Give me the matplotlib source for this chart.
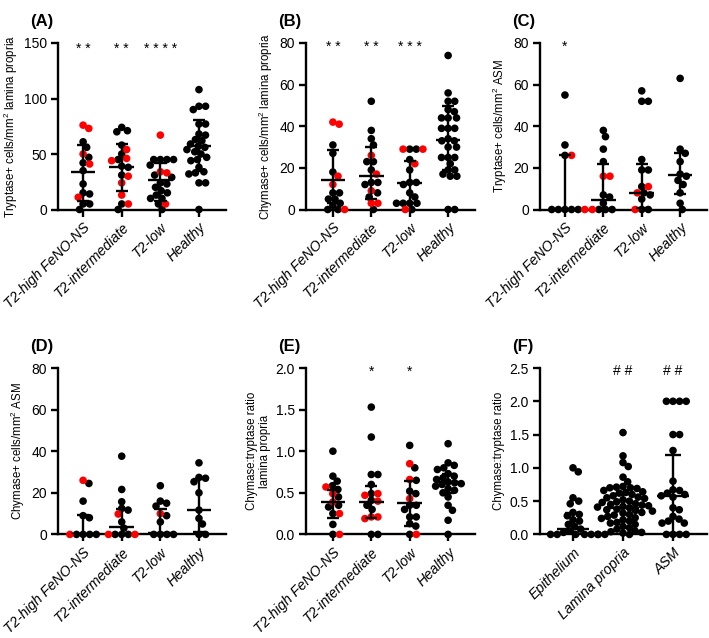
import numpy as np
import matplotlib
matplotlib.use('Agg')
import matplotlib.pyplot as plt

plt.rcParams['font.family'] = ['Liberation Sans', 'DejaVu Sans']
plt.rcParams['mathtext.fontset'] = 'custom'
plt.rcParams['mathtext.rm'] = 'Liberation Sans'
plt.rcParams['mathtext.it'] = 'Liberation Sans:italic'

groups = ['T2-high FeNO-NS', 'T2-intermediate', 'T2-low', 'Healthy']
sites = ['Epithelium', 'Lamina propria', 'ASM']

# (A) tryptase+ lamina propria
a_black = [[61, 56, 47, 42, 35, 23, 15, 14, 5, 5, 0],
           [74, 71, 70, 58, 50, 45, 39, 38, 31, 5, 0],
           [45, 45, 45, 45, 40, 31, 29, 24, 23, 20, 17, 15, 13, 10, 10, 5, 0],
           [108, 93, 93, 90, 77, 77, 68, 67, 63, 62, 59, 57, 56, 54, 52, 50, 47,
            45, 44, 38, 34, 33, 32, 24, 24, 0]]
a_red = [[76, 73, 50, 41, 11], [54, 46, 44, 30, 24, 13, 5], [67, 34, 33, 5], []]
a_med = [34, 38, 27, 57]
a_q1 = [8, 17, 8, 35]
a_q3 = [58, 59, 42, 81]
a_sig = ['**', '**', '****', '']

# (B) chymase+ lamina propria
b_black = [[31, 27, 18, 8, 8, 5, 5, 3, 2, 0, 0],
           [52, 38, 34, 31, 23, 23, 19, 13, 13, 12, 8, 6, 0],
           [29, 29, 24, 19, 13, 13, 12, 8, 6, 3, 3, 3, 3, 0],
           [74, 56, 52, 52, 48, 47, 44, 44, 44, 39, 39, 39, 34, 33, 33, 30, 30,
            25, 25, 25, 22, 19, 19, 17, 16, 16, 0, 0]]
b_red = [[42, 41, 16, 12, 0], [26, 17, 9, 3, 3], [29, 29, 22, 0], []]
b_med = [14.3, 16, 12.5, 33.4]
b_q1 = [3, 5, 3, 19]
b_q3 = [28.6, 30.2, 23.5, 49.6]
b_sig = ['**', '**', '***', '']

# (C) tryptase+ ASM
c_black = [[55, 31, 26, 0, 0, 0, 0, 0],
           [38, 35, 29, 23, 7, 6, 3, 0, 0, 0],
           [57, 52, 52, 24, 19, 19, 11, 8, 7, 5, 0, 0],
           [63, 29, 27, 23, 17, 16, 14, 12, 8, 3, 0]]
c_red = [[26, 0], [16, 16, 0], [11, 8, 0], []]
c_med = [0, 4.5, 8, 16.5]
c_q1 = [0, 0, 0.5, 7.6]
c_q3 = [26, 22, 22, 27.3]
c_sig = ['*', '', '', '']

# (D) chymase+ ASM
d_black = [[24.5, 16, 9, 8, 0, 0, 0, 0],
           [37.6, 21.6, 15.7, 12.5, 11.7, 6, 3, 0, 0, 0],
           [23.4, 16, 15, 13.6, 9, 6, 0, 0, 0, 0],
           [34.4, 27.4, 27, 25.3, 20, 11.7, 7.7, 5, 0, 0]]
d_red = [[26, 0], [9.8, 0, 0], [10], []]
d_med = [0, 3.7, 0.5, 11.7]
d_q1 = [0, 0, 0, 1]
d_q3 = [9.3, 12, 12, 26.4]
d_sig = ['', '', '', '']

# (E) chymase:tryptase ratio lamina propria
e_black = [[1.0, 0.70, 0.64, 0.585, 0.54, 0.45, 0.35, 0.33, 0.25, 0.12, 0.0],
           [1.53, 1.17, 0.72, 0.72, 0.6, 0.49, 0.41, 0.35, 0.3, 0.0, 0.0],
           [1.07, 0.8, 0.65, 0.52, 0.49, 0.35, 0.35, 0.3, 0.21, 0.21, 0.13, 0.1, 0.0],
           [1.09, 0.86, 0.83, 0.8, 0.78, 0.73, 0.7, 0.68, 0.66, 0.63, 0.62, 0.61,
            0.6, 0.58, 0.55, 0.53, 0.5, 0.45, 0.35, 0.29, 0.17, 0.0]]
e_red = [[0.57, 0.49, 0.39, 0.25, 0.0], [0.49, 0.47, 0.40, 0.21, 0.21, 0.19],
         [0.85, 0.66, 0.43, 0.0], []]
e_med = [0.39, 0.39, 0.38, 0.625]
e_q1 = [0.2, 0.2, 0.1, 0.5]
e_q3 = [0.53, 0.58, 0.64, 0.73]
e_sig = ['', '*', '*', '']

# (F) chymase:tryptase ratio by compartment
f_black = [[1.0, 0.94, 0.55, 0.5, 0.46, 0.33, 0.3, 0.28, 0.22, 0.2, 0.15, 0.12,
            0.08, 0.05, 0.03, 0.0, 0.0, 0.0, 0.0, 0.0, 0.0],
           [1.53, 1.18, 1.08, 1.02, 0.86, 0.79, 0.72, 0.71, 0.7, 0.7, 0.69, 0.66,
            0.64, 0.63, 0.62, 0.6, 0.58, 0.56, 0.55, 0.54, 0.52, 0.5, 0.49, 0.48,
            0.46, 0.45, 0.44, 0.43, 0.42, 0.41, 0.4, 0.38, 0.37, 0.36, 0.35, 0.33,
            0.32, 0.3, 0.29, 0.27, 0.25, 0.24, 0.22, 0.2, 0.18, 0.17, 0.15, 0.12,
            0.1, 0.08, 0.05, 0.04, 0.03, 0.02, 0.0, 0.0, 0.0],
           [2.0, 2.0, 2.0, 2.0, 1.5, 1.5, 1.26, 0.8, 0.67, 0.66, 0.62, 0.6, 0.58,
            0.56, 0.4, 0.37, 0.27, 0.23, 0.2, 0.17, 0.17, 0.0, 0.0, 0.0, 0.0]]
f_red = [[], [], []]
f_med = [0.08, 0.4, 0.58]
f_q1 = [0.0, 0.2, 0.02]
f_q3 = [0.32, 0.6, 1.19]
f_sig = ['', '##', '##']

W, H = 709, 638
fig = plt.figure(figsize=(W / 100, H / 100), dpi=100)

DOT = 7.6   # drawn dot diameter, px
SEP = 6.6   # spacing used to spread dots sideways, px


def px_axes(left, right, top, bottom):
    return fig.add_axes([left / W, 1 - bottom / H, (right - left) / W, (bottom - top) / H])


def swarm(ax, xc, vals):
    tr = ax.transData
    ppu = tr.transform((1, 0))[0] - tr.transform((0, 0))[0]
    ys = [tr.transform((xc, v))[1] for v in vals]
    order = np.argsort(-np.asarray(vals), kind='stable')
    placed = []
    offs = np.zeros(len(vals))
    for i in order:
        y = ys[i]
        cands = [0.0]
        for px, py in placed:
            dy = abs(py - y)
            if dy < SEP:
                dx = np.sqrt(SEP * SEP - dy * dy)
                cands += [px + dx + 1e-3, px - dx - 1e-3]
        cands.sort(key=lambda c: (abs(c), -c))
        for c in cands:
            if all((c - px) ** 2 + (y - py) ** 2 >= SEP * SEP - 1e-3 for px, py in placed):
                break
        placed.append((c, y))
        offs[i] = c
    return xc + offs / ppu


def panel(ax, letter, labels, black, red, med, q1, q3, sig, ylim, yticks,
          ylabel, sig_y, fmt, xlim):
    ax.set_xlim(*xlim)
    ax.set_ylim(*ylim)
    ms = (DOT * 72 / 100) ** 2
    for k in range(len(labels)):
        xc = k + 1
        vals = list(black[k]) + list(red[k])
        cols = ['black'] * len(black[k]) + ['#ff0000'] * len(red[k])
        xs = swarm(ax, xc, vals)
        ax.scatter(xs, vals, s=ms, c=cols, linewidths=0, clip_on=False, zorder=3)
        ax.hlines(med[k], xc - 0.32, xc + 0.32, color='black', lw=1.7, zorder=4)
        ax.vlines(xc, q1[k], q3[k], color='black', lw=1.7, zorder=4)
        ax.hlines([q1[k], q3[k]], xc - 0.16, xc + 0.16, color='black', lw=1.7, zorder=4)
        if sig[k]:
            ax.text(xc, sig_y, ' '.join(sig[k]), ha='center', va='center',
                    fontsize=10)
    for s in ['top', 'right']:
        ax.spines[s].set_visible(False)
    for s in ['left', 'bottom']:
        ax.spines[s].set_linewidth(1.7)
    ax.set_yticks(yticks)
    ax.set_yticklabels([fmt.format(t) for t in yticks], fontsize=10)
    ax.set_xticks(range(1, len(labels) + 1))
    ax.set_xticklabels(labels, rotation=45, ha='right', rotation_mode='anchor',
                       fontsize=10.2, style='italic')
    ax.tick_params(axis='both', width=1.7, length=5, direction='out', pad=3)
    ax.set_ylabel(ylabel, fontsize=8.3, labelpad=3)
    bb = ax.get_position()
    fig.text(bb.x0 - 28 / W, bb.y1 + 22 / H, letter, fontsize=12,
             fontweight='bold', ha='left', va='center')


X4 = (0.35, 4.70)
ax = px_axes(58, 226, 43, 209.5)
panel(ax, '(A)', groups, a_black, a_red, a_med, a_q1, a_q3, a_sig, (0, 150),
      [0, 50, 100, 150], 'Tryptase+ cells/mm$^2$ lamina propria', 145, '{:g}', X4)
ax = px_axes(306, 475, 43, 209.5)
panel(ax, '(B)', groups, b_black, b_red, b_med, b_q1, b_q3, b_sig, (0, 80),
      [0, 20, 40, 60, 80], 'Chymase+ cells/mm$^2$ lamina propria', 78, '{:g}', (0.30, 4.70))
ax = px_axes(540, 707, 43, 209.5)
panel(ax, '(C)', groups, c_black, c_red, c_med, c_q1, c_q3, c_sig, (0, 80),
      [0, 20, 40, 60, 80], 'Tryptase+ cells/mm$^2$ ASM', 78, '{:g}', X4)
ax = px_axes(58, 226, 368, 534.4)
panel(ax, '(D)', groups, d_black, d_red, d_med, d_q1, d_q3, d_sig, (0, 80),
      [0, 20, 40, 60, 80], 'Chymase+ cells/mm$^2$ ASM', 78, '{:g}', X4)
ax = px_axes(306, 475, 368, 534.4)
panel(ax, '(E)', groups, e_black, e_red, e_med, e_q1, e_q3, e_sig, (0, 2.0),
      [0, 0.5, 1.0, 1.5, 2.0], 'Chymase:tryptase ratio\nlamina propria', 1.95,
      '{:.1f}', (0.30, 4.70))
ax = px_axes(540, 707, 368, 534.4)
panel(ax, '(F)', sites, f_black, f_red, f_med, f_q1, f_q3, f_sig, (0, 2.5),
      [0, 0.5, 1.0, 1.5, 2.0, 2.5], 'Chymase:tryptase ratio', 2.45, '{:.1f}',
      (0.34, 3.68))

fig.savefig('out.png', dpi=100)
